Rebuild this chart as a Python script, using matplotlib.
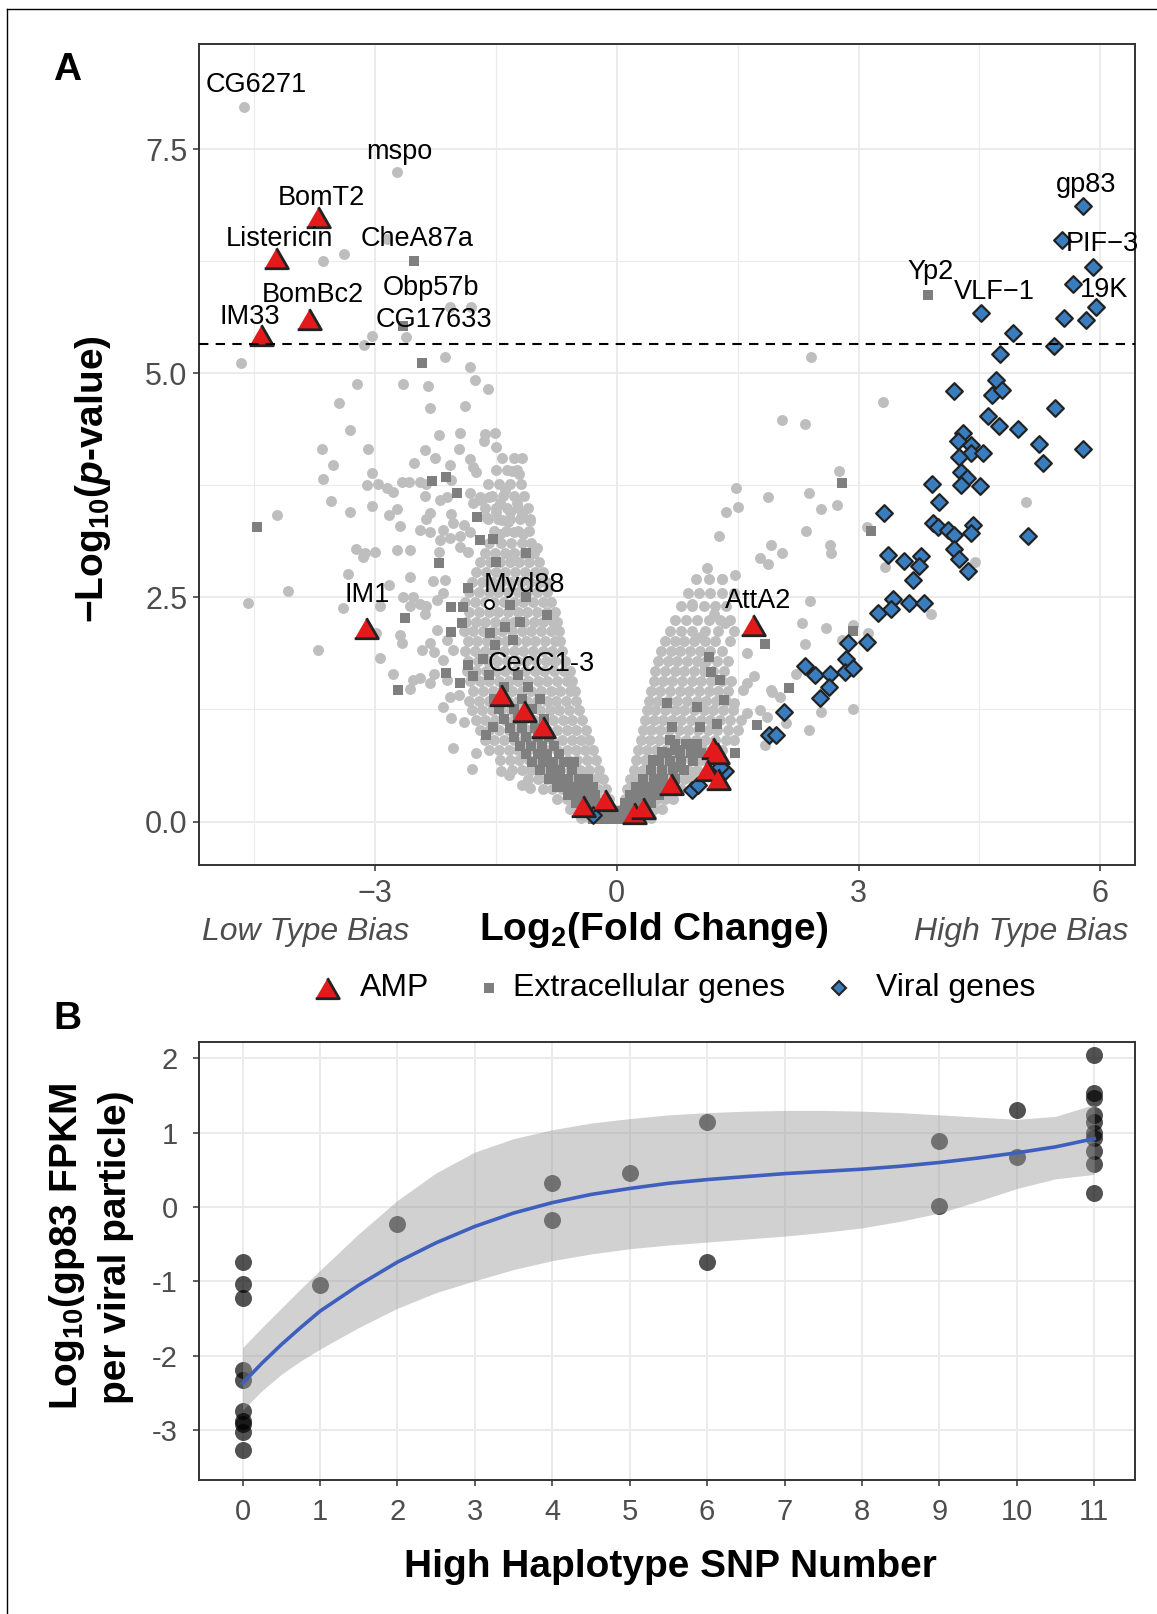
import matplotlib
matplotlib.use("Agg")
import matplotlib.pyplot as plt
from matplotlib.lines import Line2D
from matplotlib.ticker import FixedLocator

plt.rcParams['font.family'] = ['Liberation Sans', 'DejaVu Sans']
plt.rcParams['mathtext.fontset'] = 'custom'
plt.rcParams['mathtext.rm'] = 'Liberation Sans:bold'
plt.rcParams['mathtext.it'] = 'Liberation Sans:italic:bold'
plt.rcParams['mathtext.bf'] = 'Liberation Sans:bold'

# ---------------- panel A data (log2 fold change, -log10 p) ----------------
bg_sparse = [
    (-4.63, 7.97), (-2.73, 7.24), (-3.65, 6.25), (-3.38, 6.33), (-2.85, 6.50),
    (-2.07, 5.74), (-1.81, 5.74), (-2.62, 5.40), (-3.03, 5.42), (-3.14, 5.31),
    (-4.66, 5.12), (-2.13, 5.18), (-1.82, 5.07), (-1.76, 4.92), (-1.60, 4.83),
    (-3.22, 4.88), (-2.65, 4.88), (-2.34, 4.86), (-3.44, 4.67), (-2.32, 4.61),
    (-1.88, 4.63), (-3.31, 4.37), (-2.20, 4.31), (-1.94, 4.33), (-1.63, 4.32),
    (-1.51, 4.33), (-1.65, 4.24), (-1.50, 4.18), (-3.66, 4.15), (-3.08, 4.16),
    (-2.38, 4.14), (-1.96, 4.15), (-3.52, 3.98), (-2.52, 4.00), (-2.25, 4.06),
    (-1.82, 4.04), (-1.78, 3.96), (-1.74, 3.90), (-2.07, 3.98), (-1.18, 4.05),
    (-1.30, 3.91), (-1.21, 3.88), (-3.65, 3.82), (-3.03, 3.89), (-2.96, 3.77),
    (-3.10, 3.75), (-2.85, 3.72), (-2.77, 3.68), (-2.67, 3.79), (-2.58, 3.79),
    (-2.44, 3.79), (-2.36, 3.77), (-2.38, 3.63), (-2.19, 3.59), (-2.11, 3.62),
    (-2.05, 3.81), (-1.82, 3.66), (-1.70, 3.62), (-1.78, 3.55), (-1.67, 3.59),
    (-1.24, 3.55), (-3.54, 3.57), (-3.03, 3.52), (-3.31, 3.45), (-2.83, 3.42),
    (-2.73, 3.49), (-2.32, 3.44), (-2.37, 3.38), (-4.22, 3.42), (-2.05, 3.43),
    (-2.69, 3.30), (-2.44, 3.25), (-2.32, 3.23), (-2.15, 3.25), (-2.03, 3.33),
    (-1.90, 3.31), (-1.32, 3.45), (-1.35, 3.34), (-1.07, 3.35), (-1.28, 3.23),
    (-1.16, 3.21), (-2.19, 3.14), (-2.07, 3.16), (-1.94, 3.19), (-1.82, 3.23),
    (-1.45, 3.21), (-1.62, 3.40), (-1.50, 3.45), (-1.42, 3.36), (-1.18, 3.42),
    (-1.58, 3.62), (-1.45, 3.55), (-1.38, 3.70), (-1.69, 3.59),
    (-3.24, 3.04), (-3.15, 2.95), (-3.00, 3.01), (-3.12, 2.99), (-2.72, 3.03),
    (-2.57, 3.03), (-2.21, 3.01), (-1.94, 3.06), (-1.85, 3.01), (-0.99, 3.05),
    (-3.33, 2.76), (-3.39, 2.38), (-2.83, 2.64), (-2.57, 2.73), (-2.65, 2.51),
    (-2.53, 2.51), (-2.44, 2.43), (-2.36, 2.40), (-2.57, 2.40), (-2.38, 2.32),
    (-2.28, 2.68), (-2.13, 2.69), (-2.15, 2.55), (-2.23, 2.47), (-2.94, 2.40),
    (-4.08, 2.57), (-4.58, 2.44), (-3.70, 1.91), (-2.94, 1.82), (-2.99, 2.10),
    (-2.77, 1.65), (-2.67, 1.99), (-2.69, 2.08), (-2.56, 1.48), (-2.53, 1.58),
    (-2.44, 1.60), (-2.32, 1.55), (-2.42, 1.91), (-2.27, 1.89), (-2.15, 1.80),
    (-2.03, 1.91), (-2.27, 1.65), (-2.11, 1.58), (-2.32, 1.99), (-2.23, 2.14),
    (-2.11, 2.02), (-2.07, 1.39), (-1.96, 1.41), (-2.05, 1.15), (-1.90, 1.11),
    (-2.03, 0.82), (-1.74, 0.76), (-1.80, 0.59), (-1.43, 0.56), (-1.34, 0.52),
    (-1.18, 0.41), (-1.07, 0.37), (-2.15, 1.28),
    (2.41, 5.18), (3.30, 4.68), (2.05, 4.48), (2.33, 4.43), (2.76, 3.91),
    (5.08, 3.56), (3.10, 3.28), (4.45, 2.90), (3.33, 2.84), (3.90, 2.31),
    (1.48, 3.72), (1.88, 3.62), (2.38, 3.67), (1.35, 3.45), (1.50, 3.51),
    (2.53, 3.49), (2.73, 3.53), (1.27, 3.18), (2.35, 3.24), (1.91, 3.08),
    (2.05, 2.99), (2.65, 3.08), (2.66, 2.99), (1.78, 2.94), (1.88, 2.87),
    (1.12, 2.83), (1.31, 2.71), (1.47, 2.75), (2.40, 2.46), (2.30, 2.22),
    (2.59, 2.16), (2.93, 2.19), (2.33, 1.98), (2.79, 2.02), (3.12, 2.10),
    (2.93, 1.25), (2.54, 1.22), (2.39, 1.02), (2.23, 1.65), (1.93, 1.44),
    (2.10, 1.10), (1.84, 0.85), (0.94, 2.43), (1.21, 2.31), (1.34, 2.22),
    (1.45, 2.13), (1.03, 2.06), (1.08, 1.76), (1.61, 1.88), (1.70, 1.62),
    (1.61, 1.54), (1.92, 1.47), (2.03, 1.39), (1.86, 1.17), (1.78, 1.24),
    (1.61, 1.21), (1.57, 1.47), (1.45, 1.32),
]

# dense arms of the volcano, row by row: (y, [x, ...])
bg_left_rows = [
    (0.04, [-0.44, -0.33, -0.22, -0.11]),
    (0.14, [-0.58, -0.47, -0.36, -0.25, -0.14, -0.05]),
    (0.25, [-0.74, -0.62, -0.51, -0.40, -0.29, -0.18, -0.09]),
    (0.36, [-0.92, -0.80, -0.68, -0.56, -0.45, -0.34, -0.23, -0.13]),
    (0.47, [-1.10, -0.98, -0.86, -0.74, -0.62, -0.50, -0.38, -0.27, -0.17]),
    (0.58, [-1.30, -1.18, -1.06, -0.94, -0.82, -0.70, -0.58, -0.46, -0.34, -0.22]),
    (0.69, [-1.45, -1.33, -1.21, -1.09, -0.97, -0.85, -0.73, -0.61, -0.49, -0.37, -0.26]),
    (0.80, [-1.58, -1.46, -1.34, -1.22, -1.10, -0.98, -0.86, -0.74, -0.62, -0.50, -0.39, -0.29]),
    (0.91, [-1.64, -1.52, -1.40, -1.28, -1.16, -1.04, -0.92, -0.80, -0.68, -0.56, -0.44, -0.34]),
    (1.02, [-1.70, -1.58, -1.46, -1.34, -1.22, -1.10, -0.98, -0.86, -0.74, -0.62, -0.50, -0.38]),
    (1.13, [-1.75, -1.63, -1.51, -1.39, -1.27, -1.15, -1.03, -0.91, -0.79, -0.67, -0.55, -0.43]),
    (1.24, [-1.79, -1.67, -1.55, -1.43, -1.31, -1.19, -1.07, -0.95, -0.83, -0.71, -0.59, -0.47]),
    (1.35, [-1.83, -1.71, -1.59, -1.47, -1.35, -1.23, -1.11, -0.99, -0.87, -0.75, -0.63, -0.51]),
    (1.46, [-1.78, -1.66, -1.54, -1.42, -1.30, -1.18, -1.06, -0.94, -0.82, -0.70, -0.58, -0.52]),
    (1.57, [-1.82, -1.70, -1.58, -1.46, -1.34, -1.22, -1.10, -0.98, -0.86, -0.74, -0.62, -0.55]),
    (1.68, [-1.86, -1.74, -1.62, -1.50, -1.38, -1.26, -1.14, -1.02, -0.90, -0.78, -0.66, -0.58]),
    (1.79, [-1.84, -1.72, -1.60, -1.48, -1.36, -1.24, -1.12, -1.00, -0.88, -0.76, -0.64]),
    (1.90, [-1.88, -1.76, -1.64, -1.52, -1.40, -1.28, -1.16, -1.04, -0.92, -0.80, -0.68]),
    (2.01, [-1.85, -1.73, -1.61, -1.49, -1.37, -1.25, -1.13, -1.01, -0.89, -0.77, -0.70]),
    (2.12, [-1.90, -1.78, -1.66, -1.54, -1.42, -1.30, -1.18, -1.06, -0.94, -0.82, -0.72]),
    (2.23, [-1.87, -1.75, -1.63, -1.51, -1.39, -1.27, -1.15, -1.03, -0.91, -0.79, -0.74]),
    (2.34, [-1.83, -1.71, -1.59, -1.47, -1.35, -1.23, -1.11, -0.99, -0.87, -0.77]),
    (2.45, [-1.88, -1.76, -1.64, -1.52, -1.40, -1.28, -1.16, -1.04, -0.92, -0.81]),
    (2.56, [-1.83, -1.71, -1.59, -1.47, -1.35, -1.23, -1.11, -0.99, -0.87]),
    (2.67, [-1.79, -1.67, -1.55, -1.43, -1.31, -1.19, -1.07, -0.95, -0.88]),
    (2.78, [-1.74, -1.62, -1.50, -1.38, -1.26, -1.14, -1.02, -0.92]),
    (2.89, [-1.69, -1.57, -1.45, -1.33, -1.21, -1.09, -0.97]),
    (3.00, [-1.63, -1.51, -1.39, -1.27, -1.15, -1.03]),
    (3.11, [-1.58, -1.44, -1.31, -1.18, -1.06]),
    (3.24, [-1.52, -1.37, -1.22, -1.09]),
    (3.37, [-1.60, -1.47, -1.33, -1.20, -1.08]),
    (3.50, [-1.64, -1.50, -1.36, -1.22, -1.10]),
    (3.63, [-1.55, -1.41, -1.28, -1.15]),
    (3.77, [-1.60, -1.46, -1.32, -1.19]),
    (3.92, [-1.50, -1.36, -1.24]),
    (4.06, [-1.42, -1.28]),
]

bg_right_rows = [
    (0.04, [0.03, 0.12, 0.22, 0.32, 0.42]),
    (0.14, [0.06, 0.16, 0.26, 0.36, 0.46, 0.56]),
    (0.25, [0.10, 0.20, 0.30, 0.40, 0.50, 0.60, 0.70]),
    (0.36, [0.13, 0.24, 0.35, 0.46, 0.57, 0.68, 0.80]),
    (0.47, [0.17, 0.28, 0.39, 0.50, 0.61, 0.72, 0.84, 0.94]),
    (0.58, [0.21, 0.32, 0.43, 0.54, 0.65, 0.76, 0.88, 1.00]),
    (0.69, [0.24, 0.35, 0.46, 0.57, 0.68, 0.80, 0.92, 1.04, 1.14]),
    (0.80, [0.27, 0.38, 0.49, 0.60, 0.71, 0.83, 0.95, 1.07, 1.18, 1.30]),
    (0.91, [0.30, 0.41, 0.52, 0.63, 0.74, 0.86, 0.98, 1.10, 1.22, 1.35, 1.46]),
    (1.02, [0.32, 0.43, 0.54, 0.65, 0.77, 0.89, 1.01, 1.13, 1.25, 1.38, 1.50]),
    (1.13, [0.35, 0.46, 0.57, 0.68, 0.80, 0.92, 1.04, 1.16, 1.28, 1.40, 1.54]),
    (1.24, [0.37, 0.48, 0.60, 0.72, 0.84, 0.96, 1.08, 1.20, 1.32, 1.44]),
    (1.35, [0.40, 0.51, 0.63, 0.75, 0.87, 0.99, 1.11, 1.23, 1.35]),
    (1.46, [0.43, 0.54, 0.66, 0.78, 0.90, 1.02, 1.14, 1.26, 1.38]),
    (1.57, [0.46, 0.57, 0.69, 0.81, 0.93, 1.05, 1.17, 1.30, 1.42]),
    (1.68, [0.48, 0.60, 0.72, 0.84, 0.96, 1.08, 1.20, 1.33]),
    (1.79, [0.51, 0.63, 0.75, 0.87, 0.99, 1.11, 1.24, 1.38]),
    (1.90, [0.55, 0.67, 0.79, 0.91, 1.03, 1.16, 1.30]),
    (2.01, [0.60, 0.72, 0.84, 0.96, 1.09, 1.22, 1.40]),
    (2.12, [0.66, 0.80, 0.94, 1.10, 1.26]),
    (2.25, [0.72, 0.86, 1.00, 1.14, 1.28, 1.40]),
    (2.40, [0.80, 0.94, 1.08, 1.22, 1.36]),
    (2.55, [0.88, 1.02, 1.16, 1.30, 1.45]),
    (2.70, [0.98, 1.14, 1.30]),
]

ec_sparse = [
    (-2.52, 6.25), (-2.65, 5.53), (-2.41, 5.12), (-4.46, 3.28),
    (-2.12, 3.84), (-2.29, 3.80), (-1.98, 3.67), (-1.73, 3.40),
    (-1.69, 3.14), (-1.54, 3.15), (-1.12, 3.00), (-1.50, 2.89), (-2.20, 2.88),
    (-2.63, 2.27), (-2.06, 2.39), (-1.91, 2.39), (-1.92, 2.22), (-1.85, 2.61),
    (-2.05, 2.11), (-1.12, 2.51), (-1.32, 2.41), (-1.38, 2.17), (-1.29, 2.02),
    (-1.20, 2.23), (-0.87, 2.30), (-1.51, 1.97), (-1.57, 2.10), (-2.71, 1.47),
    (-1.95, 1.54), (-2.12, 1.66), (-1.85, 1.75), (-1.78, 1.62), (-1.66, 1.81),
    (-1.62, 0.96), (-1.53, 1.06),
    (3.86, 5.87), (2.80, 3.78), (3.16, 3.24), (2.93, 2.12), (1.84, 1.98),
    (2.14, 1.49), (1.74, 1.08), (1.14, 1.84), (1.17, 1.67), (1.28, 1.58),
    (1.33, 1.36), (0.99, 1.28), (0.62, 1.32), (0.68, 1.06), (0.66, 0.91),
    (0.74, 0.80), (0.89, 0.87), (1.03, 1.06), (1.24, 1.09), (1.47, 0.76),
    (0.79, 0.61), (0.45, 0.69), (0.56, 0.78),
]

ec_left_rows = [
    (0.03, [-0.30, -0.21, -0.12, -0.03]),
    (0.12, [-0.40, -0.31, -0.22, -0.13, -0.05]),
    (0.21, [-0.50, -0.40, -0.30, -0.20, -0.12]),
    (0.30, [-0.60, -0.49, -0.38, -0.27]),
    (0.39, [-0.74, -0.62, -0.50, -0.40, -0.30]),
    (0.48, [-0.84, -0.71, -0.60, -0.47, -0.36]),
    (0.57, [-0.95, -0.82, -0.70, -0.56]),
    (0.66, [-1.05, -0.92, -0.79, -0.66, -0.53]),
    (0.75, [-1.12, -0.98, -0.86, -0.72]),
    (0.84, [-1.20, -1.06, -0.93, -0.78]),
    (0.94, [-1.27, -1.12, -0.98, -0.84]),
    (1.04, [-1.33, -1.17, -1.02]),
    (1.14, [-1.40, -1.22, -0.90]),
    (1.25, [-1.46, -1.28, -1.05]),
    (1.37, [-1.52, -1.18, -0.95]),
    (1.50, [-1.40, -1.10]),
    (1.63, [-1.58, -1.22]),
]

ec_right_rows = [
    (0.03, [0.02, 0.10, 0.18]),
    (0.12, [0.06, 0.15, 0.25]),
    (0.21, [0.10, 0.20, 0.31, 0.42]),
    (0.30, [0.17, 0.28, 0.40, 0.52]),
    (0.39, [0.24, 0.36, 0.48, 0.60]),
    (0.48, [0.33, 0.46, 0.58, 0.72]),
    (0.57, [0.42, 0.56, 0.70, 0.84]),
    (0.67, [0.52, 0.66, 0.80, 0.95]),
    (0.77, [0.62, 0.78, 0.92, 1.05]),
    (0.87, [0.72, 0.86, 1.00]),
]

viral = [
    (5.78, 6.86), (5.53, 6.49), (5.91, 6.19), (5.66, 5.99), (5.95, 5.74),
    (5.55, 5.62), (5.82, 5.59), (4.52, 5.67), (4.92, 5.45), (5.42, 5.30),
    (4.76, 5.21), (4.71, 4.93), (4.18, 4.80), (4.66, 4.76), (4.78, 4.81),
    (5.44, 4.61), (4.61, 4.52), (4.74, 4.41), (4.98, 4.38), (4.30, 4.33),
    (4.23, 4.24), (4.40, 4.20), (4.39, 4.11), (4.25, 4.07), (4.55, 4.11),
    (5.24, 4.21), (5.79, 4.15), (5.29, 4.00), (4.27, 3.90), (4.34, 3.83),
    (4.27, 3.75), (4.51, 3.74), (3.91, 3.76), (4.00, 3.56), (3.31, 3.44),
    (3.92, 3.33), (3.98, 3.29), (4.11, 3.25), (4.19, 3.20), (4.42, 3.31),
    (4.39, 3.22), (5.10, 3.18), (4.18, 3.04), (4.25, 2.93), (4.36, 2.80),
    (3.36, 2.97), (3.57, 2.91), (3.77, 2.96), (3.75, 2.85), (3.67, 2.69),
    (3.43, 2.48), (3.63, 2.44), (3.81, 2.44), (3.24, 2.33), (3.40, 2.37),
    (2.87, 1.99), (3.10, 2.00), (2.85, 1.81), (2.34, 1.73), (2.46, 1.63),
    (2.64, 1.65), (2.83, 1.67), (2.93, 1.71), (2.63, 1.50), (2.52, 1.38),
    (2.08, 1.22), (1.89, 0.97), (1.97, 0.97), (-0.29, 0.07), (0.93, 0.35),
    (1.01, 0.41), (1.34, 0.56), (1.28, 0.61),
]

amp = [
    (-3.70, 6.74), (-4.23, 6.28), (-3.82, 5.61), (-4.41, 5.43), (-3.11, 2.16),
    (-1.43, 1.41), (-1.15, 1.23), (-0.92, 1.06), (-0.42, 0.17), (-0.14, 0.24),
    (0.22, 0.10), (0.32, 0.15), (0.67, 0.42), (1.20, 0.82), (1.25, 0.76),
    (1.12, 0.57), (1.26, 0.47), (1.69, 2.19),
]

myd88 = (-1.58, 2.43)

gene_labels = [
    ("CG6271", -4.47, 8.21), ("mspo", -2.70, 7.47), ("BomT2", -3.66, 6.95),
    ("Listericin", -4.18, 6.50), ("CheA87a", -2.47, 6.50), ("BomBc2", -3.77, 5.87),
    ("Obp57b", -2.31, 5.95), ("IM33", -4.55, 5.63), ("CG17633", -2.27, 5.59),
    ("IM1", -3.09, 2.53), ("Myd88", -1.15, 2.64), ("CecC1-3", -0.94, 1.76),
    ("AttA2", 1.75, 2.46), ("gp83", 5.82, 7.10), ("PIF\u22123", 6.03, 6.44),
    ("19K", 6.05, 5.93), ("Yp2", 3.89, 6.13), ("VLF\u22121", 4.69, 5.91),
]

p_cutoff = 5.33

# ---------------- panel B data ----------------
snp_number = [0] * 10 + [1, 2, 4, 4, 5, 6, 6, 9, 9, 10, 10] + [11] * 10
gp83_fpkm = [-0.74, -1.04, -1.22, -2.19, -2.32, -2.74, -2.88, -2.91, -3.02, -3.27,
             -1.05, -0.23, 0.33, -0.18, 0.46, 1.14, -0.74, 0.89, 0.02, 1.31, 0.67,
             2.04, 1.54, 1.47, 1.24, 1.15, 0.99, 0.93, 0.76, 0.58, 0.19]

fit_x = [0, 0.25, 0.5, 0.75, 1, 1.5, 2, 2.5, 3, 3.5, 4, 4.5, 5, 5.5, 6, 6.5, 7, 7.5,
         8, 8.5, 9, 9.5, 10, 10.5, 11]
fit_y = [-2.37, -2.10, -1.85, -1.62, -1.40, -1.05, -0.74, -0.48, -0.26, -0.08, 0.06,
         0.17, 0.25, 0.32, 0.37, 0.41, 0.45, 0.48, 0.51, 0.55, 0.60, 0.66, 0.73,
         0.81, 0.92]
fit_hi = [-1.89, -1.62, -1.36, -1.10, -0.85, -0.36, 0.09, 0.46, 0.74, 0.92, 1.04,
          1.13, 1.19, 1.24, 1.27, 1.29, 1.30, 1.30, 1.29, 1.27, 1.24, 1.21, 1.18,
          1.22, 1.38]
fit_lo = [-2.73, -2.47, -2.25, -2.07, -1.91, -1.62, -1.36, -1.15, -0.99, -0.84,
          -0.72, -0.63, -0.56, -0.51, -0.47, -0.43, -0.39, -0.34, -0.28, -0.19,
          -0.08, 0.08, 0.25, 0.38, 0.44]


def unpack(pairs):
    return [p[0] for p in pairs], [p[1] for p in pairs]


def unpack_rows(rows):
    xs, ys = [], []
    for y, row in rows:
        xs += row
        ys += [y] * len(row)
    return xs, ys


TICK_GREY = '#4D4D4D'
FRAME = '#333333'
GRID = '#EBEBEB'
tri = [(-1, -0.866), (1, -0.866), (0, 0.866)]


def style_axes(ax):
    for sp in ax.spines.values():
        sp.set_color(FRAME)
        sp.set_linewidth(1.4)
    ax.set_axisbelow(True)
    ax.tick_params(which='major', direction='out', length=4, width=1.1,
                   color=FRAME, labelcolor=TICK_GREY, labelsize=22)
    ax.tick_params(which='minor', length=0)


fig = plt.figure(figsize=(11.57, 16.14), dpi=100)

# ---------------- panel A ----------------
ax = fig.add_axes([0.1718, 0.4642, 0.8088, 0.5083])
style_axes(ax)
ax.set_xlim(-5.185, 6.424)
ax.set_ylim(-0.482, 8.668)
ax.set_xticks([-3, 0, 3, 6])
ax.set_xticklabels(['\u22123', '0', '3', '6'])
ax.set_yticks([0, 2.5, 5, 7.5])
ax.set_yticklabels(['0.0', '2.5', '5.0', '7.5'])
ax.xaxis.set_minor_locator(FixedLocator([-4.5, -1.5, 1.5, 4.5]))
ax.yaxis.set_minor_locator(FixedLocator([1.25, 3.75, 6.25]))
ax.grid(which='major', color=GRID, linewidth=1.4)
ax.grid(which='minor', color=GRID, linewidth=0.8)
ax.tick_params(axis='x', pad=6)
ax.tick_params(axis='y', pad=4)

bx, by = unpack(bg_sparse)
lx, ly = unpack_rows(bg_left_rows)
rx, ry = unpack_rows(bg_right_rows)
ax.scatter(bx + lx + rx, by + ly + ry, s=62, c='#BEBEBE', linewidths=0, zorder=2)

ex, ey = unpack(ec_sparse)
elx, ely = unpack_rows(ec_left_rows)
erx, ery = unpack_rows(ec_right_rows)
ax.scatter(ex + elx + erx, ey + ely + ery, s=42, marker='s', c='#7F7F7F',
           linewidths=0, zorder=3)

ax.scatter([myd88[0]], [myd88[1]], s=40, facecolors='white', edgecolors='black',
           linewidths=1.4, zorder=3)

vx, vy = unpack(viral)
ax.scatter(vx, vy, s=72, marker='D', c='#3A7DBF', edgecolors='#222222',
           linewidths=1.6, zorder=4)

amx, amy = unpack(amp)
ax.scatter(amx, amy, s=290, marker=tri, c='#E31A1C', edgecolors='#222222',
           linewidths=2.0, zorder=5)

ax.axhline(p_cutoff, color='black', linewidth=1.5, linestyle=(0, (4.5, 3.5)), zorder=6)

for name, lx_, ly_ in gene_labels:
    ax.text(lx_, ly_, name, ha='center', va='center', fontsize=19.5,
            color='black', zorder=7)

# ---------------- panel B ----------------
bx2 = fig.add_axes([0.1718, 0.0830, 0.8088, 0.2714])
style_axes(bx2)
bx2.set_xlim(-0.565, 11.52)
bx2.set_ylim(-3.67, 2.22)
bx2.set_xticks(range(12))
bx2.set_yticks([-3, -2, -1, 0, 1, 2])
bx2.set_yticklabels(['-3', '-2', '-1', '0', '1', '2'])
bx2.grid(which='major', color=GRID, linewidth=1.4)
bx2.tick_params(axis='x', pad=9, labelsize=21)
bx2.tick_params(axis='y', pad=11, labelsize=21)

bx2.scatter(snp_number, gp83_fpkm, s=150, c='black', alpha=0.68, linewidths=0, zorder=3)
bx2.fill_between(fit_x, fit_lo, fit_hi, color='#999999', alpha=0.45, linewidth=0, zorder=4)
bx2.plot(fit_x, fit_y, color='#3F5FBF', linewidth=2.6, zorder=5)

# ---------------- labels, legend, frame ----------------
fig.text(0.0579, 0.9566, 'A', fontsize=28, fontweight='bold', ha='center', va='center')
fig.text(0.0579, 0.3687, 'B', fontsize=28, fontweight='bold', ha='center', va='center')

fig.text(0.080, 0.703, '\u2212Log$_{10}$($\\mathit{p}$-value)', rotation=90,
         fontsize=28, fontweight='bold', ha='center', va='center')
fig.text(0.5653, 0.4238, 'Log$_{2}$(Fold Change)', fontsize=28, fontweight='bold',
         ha='center', va='center')
fig.text(0.2645, 0.4226, 'Low Type Bias', fontsize=23, style='italic',
         color=TICK_GREY, ha='center', va='center')
fig.text(0.8825, 0.4226, 'High Type Bias', fontsize=23, style='italic',
         color=TICK_GREY, ha='center', va='center')

fig.text(0.0579, 0.2274, 'Log$_{10}$(gp83 FPKM', rotation=90, fontsize=28,
         fontweight='bold', ha='center', va='center')
fig.text(0.1003, 0.2274, 'per viral particle)', rotation=90, fontsize=28,
         fontweight='bold', ha='center', va='center')
fig.text(0.5791, 0.0291, 'High Haplotype SNP Number', fontsize=28,
         fontweight='bold', ha='center', va='center')

leg_y = 0.3879
fig.add_artist(Line2D([0.2826], [leg_y], marker=tri, markersize=17, color='none',
                      markerfacecolor='#E31A1C', markeredgecolor='#222222',
                      markeredgewidth=2.0, transform=fig.transFigure))
fig.text(0.3111, leg_y, 'AMP', fontsize=23, ha='left', va='center')
fig.add_artist(Line2D([0.4226], [leg_y], marker='s', markersize=7, color='none',
                      markerfacecolor='#7F7F7F', markeredgewidth=0,
                      transform=fig.transFigure))
fig.text(0.4434, leg_y, 'Extracellular genes', fontsize=23, ha='left', va='center')
fig.add_artist(Line2D([0.7252], [leg_y], marker='D', markersize=7.5, color='none',
                      markerfacecolor='#3A7DBF', markeredgecolor='#222222',
                      markeredgewidth=1.5, transform=fig.transFigure))
fig.text(0.7571, leg_y, 'Viral genes', fontsize=23, ha='left', va='center')

# outer frame (top and left edges visible in the original)
fig.add_artist(Line2D([0.006, 1.0], [0.9944, 0.9944], color='black', linewidth=1.0,
                      transform=fig.transFigure))
fig.add_artist(Line2D([0.006, 0.006], [0.0, 0.9944], color='black', linewidth=1.0,
                      transform=fig.transFigure))

fig.savefig('out.png', dpi=100)
